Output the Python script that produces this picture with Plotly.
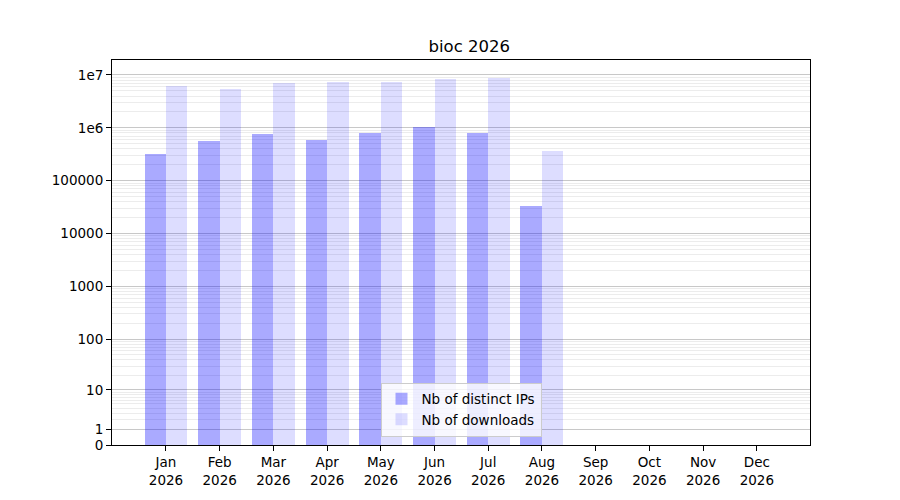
import numpy as np
import plotly.graph_objects as go

months = ["Jan", "Feb", "Mar", "Apr", "May", "Jun", "Jul", "Aug", "Sep", "Oct", "Nov", "Dec"]
year = "2026"
distinct_ips = [322000, 574000, 769000, 592000, 802000, 1042000, 802000, 33600, 0, 0, 0, 0]
downloads = [6190000, 5430000, 7060000, 7370000, 7370000, 8400000, 8780000, 367000, 0, 0, 0, 0]
major_vals = [0, 1, 10, 100, 1000, 10000, 100000, 1000000, 10000000]
major_text = ["0", "1", "10", "100", "1000", "10000", "100000", "1e6", "1e7"]


def tf(v):
    return np.log10(1 + np.asarray(v, dtype=float))


idx = np.arange(len(months))
xlabels = [f"{m}<br>{year}" for m in months]
minor_vals = [tf(k * 10 ** n) for n in range(0, 7) for k in range(2, 10)]

fig = go.Figure()
fig.add_trace(go.Bar(x=idx - 0.2, y=tf(distinct_ips), width=0.4, name="Nb of distinct IPs",
                     marker=dict(color="rgba(0,0,255,0.333)", line=dict(width=0))))
fig.add_trace(go.Bar(x=idx + 0.2, y=tf(downloads), width=0.4, name="Nb of downloads",
                     marker=dict(color="rgba(0,0,255,0.133)", line=dict(width=0))))

font = dict(family="DejaVu Sans", size=13.5, color="black")
fig.update_layout(
    width=900, height=500,
    margin=dict(l=104, r=98, t=52, b=63),
    plot_bgcolor="white", paper_bgcolor="white",
    font=font,
    title=dict(text="bioc 2026", x=0.5125, xanchor="center", y=0.924, yanchor="middle",
               font=dict(family="DejaVu Sans", size=16.5, color="black")),
    showlegend=True,
    legend=dict(x=0.5, xanchor="center", y=0.022, yanchor="bottom",
                bgcolor="rgba(255,255,255,0.8)", bordercolor="#cccccc", borderwidth=1,
                font=font, tracegroupgap=0),
    barmode="overlay",
    bargap=0,
)
fig.update_xaxes(
    range=[-1.005, 11.99], tickmode="array", tickvals=idx, ticktext=xlabels,
    showgrid=False, zeroline=False, showline=True, mirror=True, linecolor="black", linewidth=1,
    ticks="outside", ticklen=5, tickcolor="black", tickfont=font,
)
fig.update_yaxes(
    range=[0, 7.283], tickmode="array", tickvals=tf(major_vals), ticktext=major_text,
    showgrid=True, gridcolor="#c8c8c8", gridwidth=1, zeroline=False,
    showline=True, mirror=True, linecolor="black", linewidth=1,
    ticks="outside", ticklen=5, tickcolor="black", tickfont=font,
    minor=dict(tickmode="array", tickvals=minor_vals, showgrid=True, gridcolor="#ececec",
               gridwidth=1, ticks=""),
)

fig.write_html("out.html")
